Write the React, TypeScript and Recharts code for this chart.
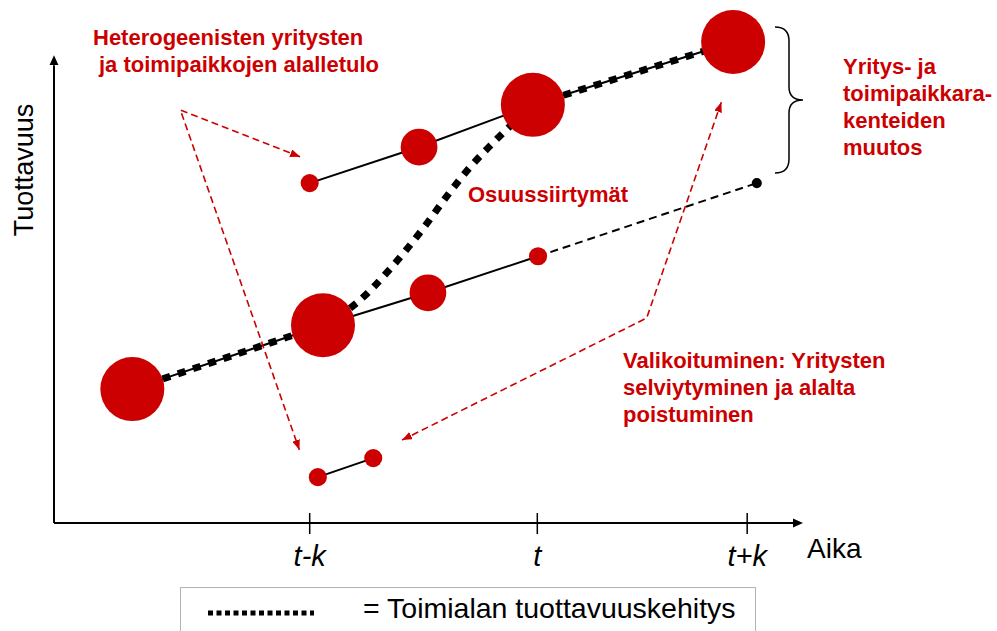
import React from 'react';
import { ComposedChart, Line, Scatter, XAxis, YAxis, ZAxis, ReferenceLine } from 'recharts';

const RED = '#cc0000';
const FONT = '"Liberation Sans", Arial, Helvetica, sans-serif';

// time runs 0..100 along x, productivity 0..100 along y, z = firm size
const timeTicks = [34.6, 65.4, 93.8];
const timeLabels = ['t-k', 't', 't+k'];

const upperFirms = [
  { x: 34.6, y: 66.0, z: 8 },
  { x: 49.4, y: 73.0, z: 33 },
  { x: 64.8, y: 81.2, z: 100 },
  { x: 91.9, y: 93.4, z: 100 },
];
const lowerFirms = [
  { x: 10.6, y: 26.0, z: 100 },
  { x: 36.4, y: 38.4, z: 100 },
  { x: 50.6, y: 44.7, z: 33 },
  { x: 65.5, y: 51.8, z: 8 },
];
const exitPath = [
  { x: 65.5, y: 51.8 },
  { x: 95.1, y: 66.0 },
];
const exitFirm = [{ x: 95.1, y: 66.0, z: 2.5 }];
const entrantFirms = [
  { x: 35.7, y: 8.9, z: 8 },
  { x: 43.2, y: 12.6, z: 8 },
];
// industry productivity path: straight start, S-shaped shift, straight end
const industryStart = [
  { x: 10.6, y: 26.0 },
  { x: 36.4, y: 38.4 },
];
const industryShift = [
  { x: 36.4, y: 38.4 },
  { x: 41.1, y: 42.9 },
  { x: 45.7, y: 49.7 },
  { x: 49.8, y: 56.9 },
  { x: 53.6, y: 64.3 },
  { x: 56.3, y: 69.1 },
  { x: 59.4, y: 73.8 },
  { x: 64.8, y: 81.2 },
];
const industryEnd = [
  { x: 64.8, y: 81.2 },
  { x: 91.9, y: 93.4 },
];
const entryArrow = [
  { x: 33.3, y: 71.1 },
  { x: 17.1, y: 80.2 },
  { x: 33.2, y: 14.2 },
];
const selectionArrow = [
  { x: 47.1, y: 16.1 },
  { x: 80.2, y: 39.8 },
  { x: 90.3, y: 81.7 },
];
const yAxisSegment = [
  { x: 0, y: 0 },
  { x: 0, y: 88.9 },
];

const entryText = ['Heterogeenisten yritysten', 'ja toimipaikkojen alalletulo'];
const shareText = 'Osuussiirtymät';
const changeText = ['Yritys- ja', 'toimipaikkara-', 'kenteiden', 'muutos'];
const selectionText = ['Valikoituminen: Yritysten', 'selviytyminen ja alalta', 'poistuminen'];
const legendText = '= Toimialan tuottavuuskehitys';

const TimeTick = (props: any) => {
  const { x, y, payload } = props;
  const i = timeTicks.indexOf(payload.value);
  return (
    <g>
      <line x1={x} y1={y - 10} x2={x} y2={y + 11} stroke="#000" strokeWidth={1.5} />
      <text x={x} y={y + 43} textAnchor="middle" fontFamily={FONT} fontSize={29} fontStyle="italic" fill="#000">
        {timeLabels[i]}
      </text>
    </g>
  );
};

const redText = { fontFamily: FONT, fontSize: 22, fontWeight: 700, fill: RED } as const;

const seg = { dot: false, activeDot: false, isAnimationActive: false, type: 'linear' as const, dataKey: 'y' };

export default function App() {
  return (
    <div style={{ position: 'absolute', left: 0, top: 0, width: 997, height: 631, background: '#fff', overflow: 'hidden' }}>
      <ComposedChart width={997} height={631} margin={{ top: 8, right: 204, bottom: 48, left: 54 }}>
        <XAxis
          type="number"
          dataKey="x"
          domain={[0, 100]}
          ticks={timeTicks}
          interval={0}
          tick={(p: any) => <TimeTick {...p} />}
          tickLine={false}
          tickSize={0}
          tickMargin={0}
          height={60}
          axisLine={{ stroke: '#000', strokeWidth: 2, markerEnd: 'url(#axisArrow)' }}
        />
        <YAxis type="number" dataKey="y" domain={[0, 100]} hide />
        <ZAxis type="number" dataKey="z" domain={[0, 100]} range={[0, 3217]} />
        <ReferenceLine
          segment={yAxisSegment}
          ifOverflow="visible"
          shape={(p: any) => (
            <line x1={p.x1} y1={p.y1} x2={p.x2} y2={p.y2} stroke="#000" strokeWidth={2} markerEnd="url(#axisArrow)" />
          )}
        />
        <Line {...seg} data={lowerFirms} stroke="#000" strokeWidth={2} />
        <Line {...seg} data={upperFirms} stroke="#000" strokeWidth={2} />
        <Line {...seg} data={entrantFirms} stroke="#000" strokeWidth={2} />
        <Line {...seg} data={exitPath} stroke="#000" strokeWidth={2} strokeDasharray="8 5" />
        <Line {...seg} data={industryStart} stroke="#000" strokeWidth={7} strokeDasharray="8 8" />
        <Line {...seg} data={industryShift} type="monotone" stroke="#000" strokeWidth={7} strokeDasharray="8 8" />
        <Line {...seg} data={industryEnd} stroke="#000" strokeWidth={7} strokeDasharray="8 8" />
        <Line {...seg} data={entryArrow} stroke={RED} strokeWidth={1.6} strokeDasharray="7 4" markerStart="url(#redArrow)" markerEnd="url(#redArrow)" />
        <Line {...seg} data={selectionArrow} stroke={RED} strokeWidth={1.6} strokeDasharray="7 4" markerStart="url(#redArrow)" markerEnd="url(#redArrow)" />
        <Scatter data={lowerFirms} fill={RED} isAnimationActive={false} />
        <Scatter data={upperFirms} fill={RED} isAnimationActive={false} />
        <Scatter data={entrantFirms} fill={RED} isAnimationActive={false} />
        <Scatter data={exitFirm} fill="#000" isAnimationActive={false} />
      </ComposedChart>

      <svg width={997} height={631} style={{ position: 'absolute', left: 0, top: 0, pointerEvents: 'none' }}>
        <defs>
          <marker id="axisArrow" viewBox="0 0 10 10" refX="0" refY="5" markerWidth="10" markerHeight="10" markerUnits="userSpaceOnUse" orient="auto">
            <path d="M0,0.5 L10,5 L0,9.5 z" fill="#000" />
          </marker>
          <marker id="redArrow" viewBox="0 0 10 8" refX="10" refY="4" markerWidth="10" markerHeight="8" markerUnits="userSpaceOnUse" orient="auto-start-reverse">
            <path d="M0,0 L10,4 L0,8 z" fill={RED} />
          </marker>
        </defs>

        <text transform="translate(33,170) rotate(-90)" textAnchor="middle" fontFamily={FONT} fontSize={27} fill="#000">
          Tuottavuus
        </text>
        <text x={807} y={558} fontFamily={FONT} fontSize={28} fill="#000">
          Aika
        </text>

        <text x={93} y={45} {...redText}>{entryText[0]}</text>
        <text x={99} y={72} {...redText}>{entryText[1]}</text>
        <text x={468} y={202} {...redText}>{shareText}</text>
        {changeText.map((t, i) => (
          <text key={t} x={843} y={74 + i * 27} {...redText}>{t}</text>
        ))}
        {selectionText.map((t, i) => (
          <text key={t} x={623} y={368 + i * 27} {...redText}>{t}</text>
        ))}

        <path
          d="M775,27 Q789,27 789,41 L789,87 Q789,100 803,100 Q789,100 789,113 L789,159 Q789,173 775,173"
          fill="none"
          stroke="#000"
          strokeWidth={1.5}
        />

        <rect x={180.5} y={587.5} width={575} height={60} fill="none" stroke="#666" strokeWidth={1} strokeDasharray="1 1" />
        <line x1={208} y1={613} x2={314} y2={613} stroke="#000" strokeWidth={5} strokeDasharray="5 3.5" />
        <text x={363} y={618} fontFamily={FONT} fontSize={28.5} fill="#000">
          {legendText}
        </text>
      </svg>
    </div>
  );
}
